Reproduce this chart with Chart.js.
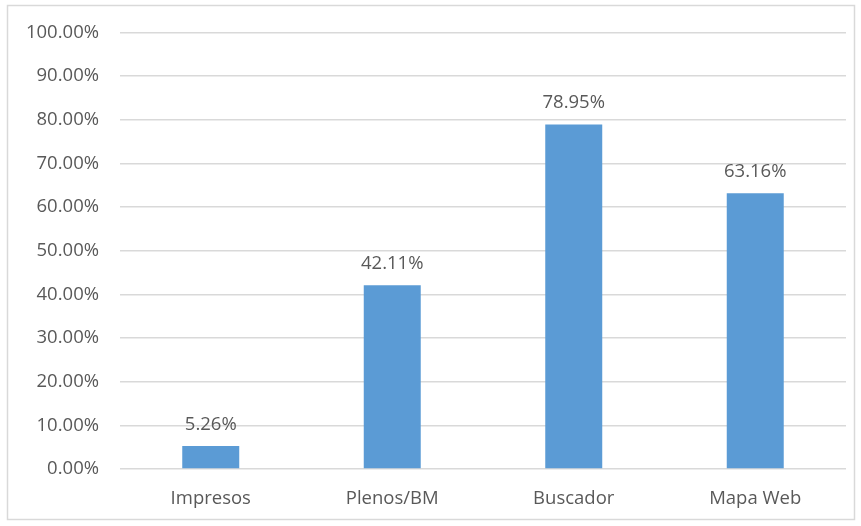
<!DOCTYPE html>
<html>
<head>
<meta charset="utf-8">
<script src="https://cdn.jsdelivr.net/npm/chart.js@4"></script>
<style>
  html, body { margin: 0; padding: 0; background: #ffffff; }
  #wrap { position: relative; width: 861px; height: 526px; }
</style>
</head>
<body>
<div id="wrap"><canvas id="chart" width="861" height="526"></canvas></div>
<script>
// Share of users per access channel
const categories = ['Impresos', 'Plenos/BM', 'Buscador', 'Mapa Web'];
const percentages = [5.26, 42.11, 78.95, 63.16];
const yTicks = [0, 10, 20, 30, 40, 50, 60, 70, 80, 90, 100];

const textColor = '#595959';
const fontFamily = '"Open Sans", "Noto Sans", sans-serif';
const fontSize = 18.5;

// Outer frame around the whole chart
const framePlugin = {
  id: 'frame',
  beforeDraw(chart) {
    const ctx = chart.ctx;
    ctx.save();
    ctx.fillStyle = '#ffffff';
    ctx.fillRect(0, 0, chart.width, chart.height);
    ctx.strokeStyle = '#d9d9d9';
    ctx.lineWidth = 1.5;
    ctx.strokeRect(7.5, 5.5, 847, 514);
    ctx.restore();
  }
};

// Value labels above each bar
const valueLabels = {
  id: 'valueLabels',
  afterDatasetsDraw(chart) {
    const ctx = chart.ctx;
    const meta = chart.getDatasetMeta(0);
    const data = chart.data.datasets[0].data;
    ctx.save();
    ctx.fillStyle = textColor;
    ctx.font = fontSize + 'px ' + fontFamily;
    ctx.textAlign = 'center';
    ctx.textBaseline = 'alphabetic';
    meta.data.forEach((bar, i) => {
      ctx.fillText(data[i].toFixed(2) + '%', bar.x, bar.y - 16);
    });
    ctx.restore();
  }
};

new Chart(document.getElementById('chart'), {
  type: 'bar',
  data: {
    labels: categories,
    datasets: [{
      data: percentages,
      backgroundColor: '#5b9bd5',
      borderWidth: 0,
      barPercentage: 0.314,
      categoryPercentage: 1
    }]
  },
  options: {
    responsive: false,
    animation: false,
    events: [],
    layout: { padding: { left: 20, right: 15, top: 32.5, bottom: 0 } },
    plugins: {
      legend: { display: false },
      tooltip: { enabled: false },
      title: { display: false }
    },
    scales: {
      x: {
        grid: { display: false, drawTicks: false },
        border: { display: false },
        ticks: {
          color: textColor,
          font: { family: fontFamily, size: fontSize },
          padding: 19,
          maxRotation: 0
        },
        afterFit(scale) { scale.height = 57; }
      },
      y: {
        min: 0,
        max: 100,
        afterBuildTicks(scale) { scale.ticks = yTicks.map(v => ({ value: v })); },
        grid: { color: '#d9d9d9', lineWidth: 1.5, drawTicks: false },
        border: { display: false },
        ticks: {
          color: textColor,
          font: { family: fontFamily, size: fontSize },
          padding: 21,
          callback: v => Number(v).toFixed(2) + '%'
        },
        afterFit(scale) { scale.width = 100; }
      }
    }
  },
  plugins: [framePlugin, valueLabels]
});
</script>
</body>
</html>
